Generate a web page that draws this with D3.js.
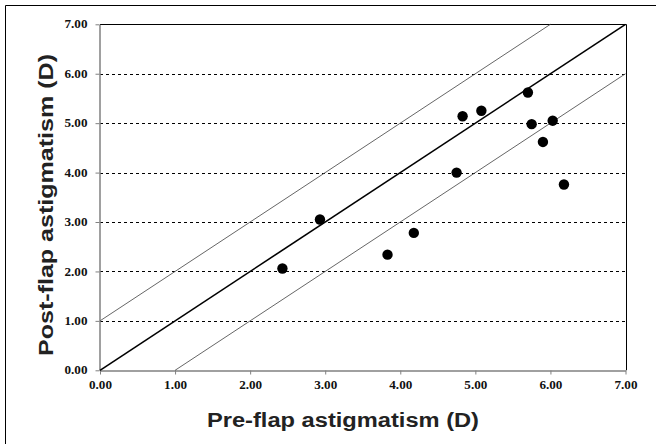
<!DOCTYPE html>
<html><head><meta charset="utf-8">
<script src="https://cdn.jsdelivr.net/npm/d3@7"></script>
<style>html,body{margin:0;padding:0;background:#fff;}svg{display:block;}</style>
</head><body>
<script>
// Data
const preFlap  = [2.43, 2.93, 3.83, 4.18, 4.75, 4.83, 5.08, 5.70, 5.75, 5.90, 6.03, 6.18];
const postFlap = [2.06, 3.05, 2.34, 2.78, 4.00, 5.14, 5.25, 5.62, 4.98, 4.62, 5.05, 3.76];
const tickValues = [0, 1, 2, 3, 4, 5, 6, 7];
const tickLabels = ["0.00","1.00","2.00","3.00","4.00","5.00","6.00","7.00"];
const refOffsets = [-1, 0, 1];
const xTitle = "Pre-flap astigmatism (D)";
const yTitle = "Post-flap astigmatism (D)";

const W = 656, H = 444;
const svg = d3.select("body").append("svg").attr("width", W).attr("height", H);

const x = d3.scaleLinear().domain([0, 7]).range([100, 625.5]);
const y = d3.scaleLinear().domain([0, 7]).range([370.3, 24.3]);

// outer frame (top & left visible)
svg.append("path").attr("d", `M5.5,${H} V5.5 H${W}`).attr("fill", "none").attr("stroke", "#000").attr("stroke-width", 1);

// gridlines (dashed)
svg.append("g").selectAll("line").data(tickValues.filter(v => v > 0 && v < 7)).join("line")
  .attr("x1", x(0)).attr("x2", x(7))
  .attr("y1", d => Math.round(y(d)) + 0.5).attr("y2", d => Math.round(y(d)) + 0.5)
  .attr("stroke", "#000").attr("stroke-width", 1).attr("stroke-dasharray", "3,3");

// plot frame top & right (black)
svg.append("path").attr("d", `M${x(0)},${Math.round(y(7))+0.5} H${Math.round(x(7))+0.5} V${y(0)}`)
  .attr("fill", "none").attr("stroke", "#000").attr("stroke-width", 1);

// axes
const xAxis = d3.axisBottom(x).tickValues(tickValues).tickFormat((d, i) => tickLabels[i]).tickSize(4).tickSizeOuter(0);
const yAxis = d3.axisLeft(y).tickValues(tickValues).tickFormat((d, i) => tickLabels[i]).tickSize(4).tickSizeOuter(0);

const gx = svg.append("g").attr("transform", `translate(0,${Math.round(y(0))+0.5})`).call(xAxis);
const gy = svg.append("g").attr("transform", `translate(${Math.round(x(0))-0.5},0)`).call(yAxis);
[gx, gy].forEach(g => {
  g.select(".domain").attr("stroke", "#808080").attr("stroke-width", 1.5);
  g.selectAll(".tick line").attr("stroke", "#808080");
  g.selectAll(".tick text")
    .attr("font-family", "'Liberation Serif', 'Times New Roman', serif")
    .attr("font-weight", "bold").attr("font-size", 11.5).attr("fill", "#111")
    .attr("textLength", 23).attr("lengthAdjust", "spacingAndGlyphs");
});
gx.selectAll(".tick text").attr("y", 10).attr("dy", "0.71em");
gy.selectAll(".tick text").attr("x", -12);

// reference lines
const lineGen = d3.line().x(d => x(d[0])).y(d => y(d[1]));
refOffsets.forEach(o => {
  const x0 = Math.max(0, -o), x1 = Math.min(7, 7 - o);
  svg.append("path").datum([[x0, x0 + o], [x1, x1 + o]]).attr("d", lineGen)
    .attr("fill", "none")
    .attr("stroke", o === 0 ? "#000" : "#555")
    .attr("stroke-width", o === 0 ? 1.6 : 0.9);
});

// points
svg.append("g").selectAll("circle").data(preFlap.map((v, i) => [v, postFlap[i]])).join("circle")
  .attr("cx", d => x(d[0])).attr("cy", d => y(d[1])).attr("r", 5.2).attr("fill", "#000");

// axis titles
svg.append("text").text(xTitle)
  .attr("x", 207).attr("y", 427)
  .attr("font-family", "'Liberation Sans', Arial, sans-serif").attr("font-weight", "bold")
  .attr("font-size", 20).attr("fill", "#222")
  .attr("textLength", 272).attr("lengthAdjust", "spacingAndGlyphs");

svg.append("text").text(yTitle)
  .attr("transform", "translate(53,205) rotate(-90)")
  .attr("text-anchor", "middle")
  .attr("font-family", "'Liberation Sans', Arial, sans-serif").attr("font-weight", "bold")
  .attr("font-size", 21).attr("fill", "#222")
  .attr("textLength", 302).attr("lengthAdjust", "spacingAndGlyphs");
</script>
</body></html>
